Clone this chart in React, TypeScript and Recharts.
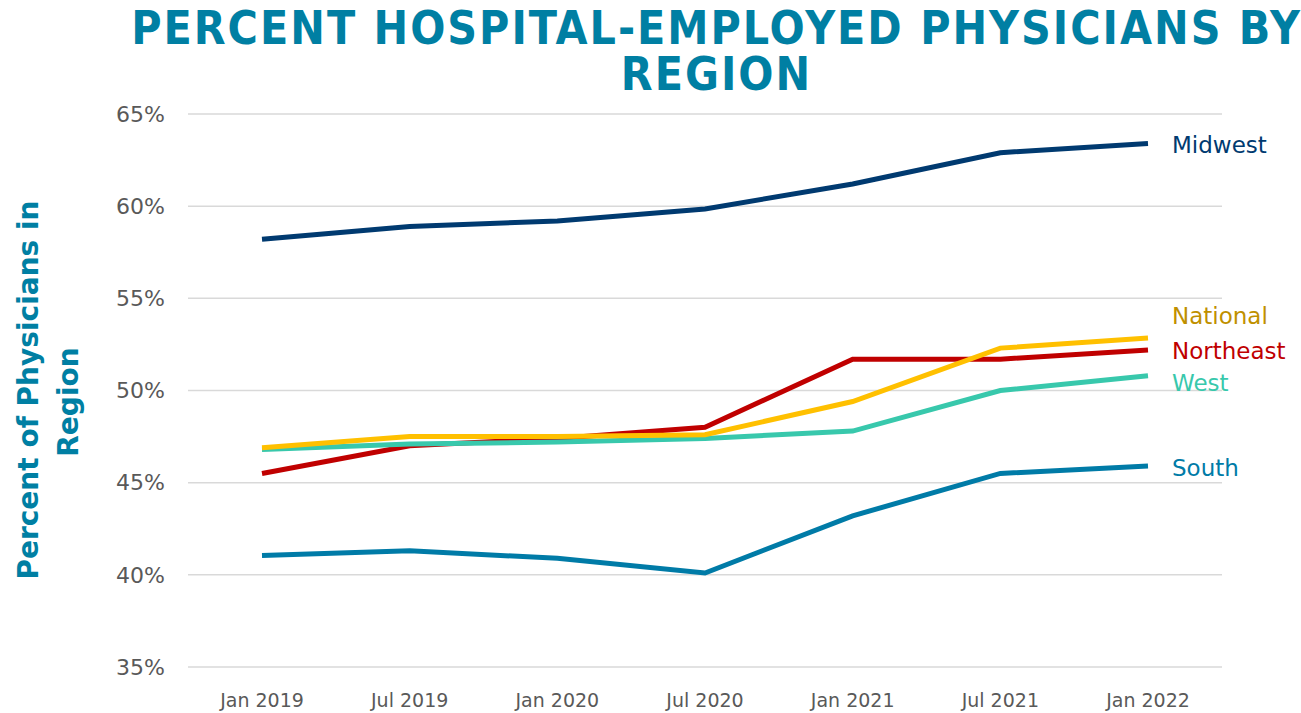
import React from "react";
import { LineChart, Line, XAxis, YAxis, CartesianGrid } from "recharts";

const categories = ["Jan 2019", "Jul 2019", "Jan 2020", "Jul 2020", "Jan 2021", "Jul 2021", "Jan 2022"];
const midwest = [58.2, 58.9, 59.2, 59.85, 61.2, 62.9, 63.4];
const south = [41.05, 41.3, 40.9, 40.1, 43.2, 45.5, 45.9];
const northeast = [45.5, 47.0, 47.4, 48.0, 51.7, 51.7, 52.2];
const west = [46.8, 47.1, 47.2, 47.4, 47.8, 50.0, 50.8];
const national = [46.9, 47.5, 47.5, 47.6, 49.4, 52.3, 52.85];
const yTicks = [35, 40, 45, 50, 55, 60, 65];

const data = categories.map((c, i) => ({
  name: c,
  Midwest: midwest[i],
  South: south[i],
  Northeast: northeast[i],
  West: west[i],
  National: national[i],
}));

const seriesStyle = [
  { key: "Midwest", color: "#003A70", text: "#003A70", dy: 2 },
  { key: "South", color: "#007BA7", text: "#007BA7", dy: 2 },
  { key: "Northeast", color: "#C00000", text: "#C00000", dy: 1 },
  { key: "West", color: "#38C8AC", text: "#38C8AC", dy: 7 },
  { key: "National", color: "#FFC000", text: "#BF9000", dy: -22 },
];

const FONT = "'DejaVu Sans', Verdana, sans-serif";
const TITLE_COLOR = "#007FA3";

const makeEndLabel = (name: string, color: string, dy: number) => (props: any) => {
  const { x, y, index } = props;
  if (index !== categories.length - 1) return null;
  return (
    <text x={x + 24} y={y + dy} fill={color} fontSize={23} fontFamily={FONT} dominantBaseline="central">
      {name}
    </text>
  );
};

const YLabel = () => (
  <g>
    <text
      transform="translate(38, 390) rotate(-90)"
      textAnchor="middle"
      fill={TITLE_COLOR}
      fontSize={28}
      fontWeight="bold"
      fontFamily={FONT}
    >
      Percent of Physicians in
    </text>
    <text
      transform="translate(78, 402) rotate(-90)"
      textAnchor="middle"
      fill={TITLE_COLOR}
      fontSize={28}
      fontWeight="bold"
      fontFamily={FONT}
    >
      Region
    </text>
  </g>
);

export default function App() {
  return (
    <div style={{ position: "absolute", left: 0, top: 0, width: 1301, height: 713, background: "#fff" }}>
      <div
        style={{
          position: "absolute",
          left: 66,
          top: 5,
          width: 1301,
          textAlign: "center",
          fontFamily: "'DejaVu Sans Condensed', 'DejaVu Sans', sans-serif",
          fontWeight: "bold",
          fontSize: 46,
          lineHeight: "46px",
          letterSpacing: 2,
          color: TITLE_COLOR,
        }}
      >
        PERCENT HOSPITAL-EMPLOYED PHYSICIANS BY
        <br />
        REGION
      </div>
      <svg width={1301} height={713} style={{ position: "absolute", left: 0, top: 0, pointerEvents: "none" }}>
        <YLabel />
      </svg>
      <div style={{ position: "absolute", left: 0, top: 0 }}>
        <LineChart width={1301} height={713} data={data} margin={{ top: 114, right: 79, bottom: 0, left: 0 }}>
          <CartesianGrid vertical={false} stroke="#D9D9D9" strokeWidth={1.5} />
          <XAxis
            dataKey="name"
            axisLine={false}
            tickLine={false}
            height={46}
            padding={{ left: 74, right: 74 }}
            tickMargin={21}
            tick={{ fill: "#595959", fontSize: 19, fontFamily: FONT }}
            interval={0}
          />
          <YAxis
            width={188}
            domain={[35, 65]}
            ticks={yTicks}
            axisLine={false}
            tickLine={false}
            tickMargin={17}
            tickFormatter={(v: number) => `${v}%`}
            tick={{ fill: "#595959", fontSize: 22, fontFamily: FONT }}
          />
          {seriesStyle.map((s) => (
            <Line
              key={s.key}
              type="linear"
              dataKey={s.key}
              stroke={s.color}
              strokeWidth={5}
              dot={false}
              activeDot={false}
              isAnimationActive={false}
              label={makeEndLabel(s.key, s.text, s.dy)}
            />
          ))}
        </LineChart>
      </div>
    </div>
  );
}
